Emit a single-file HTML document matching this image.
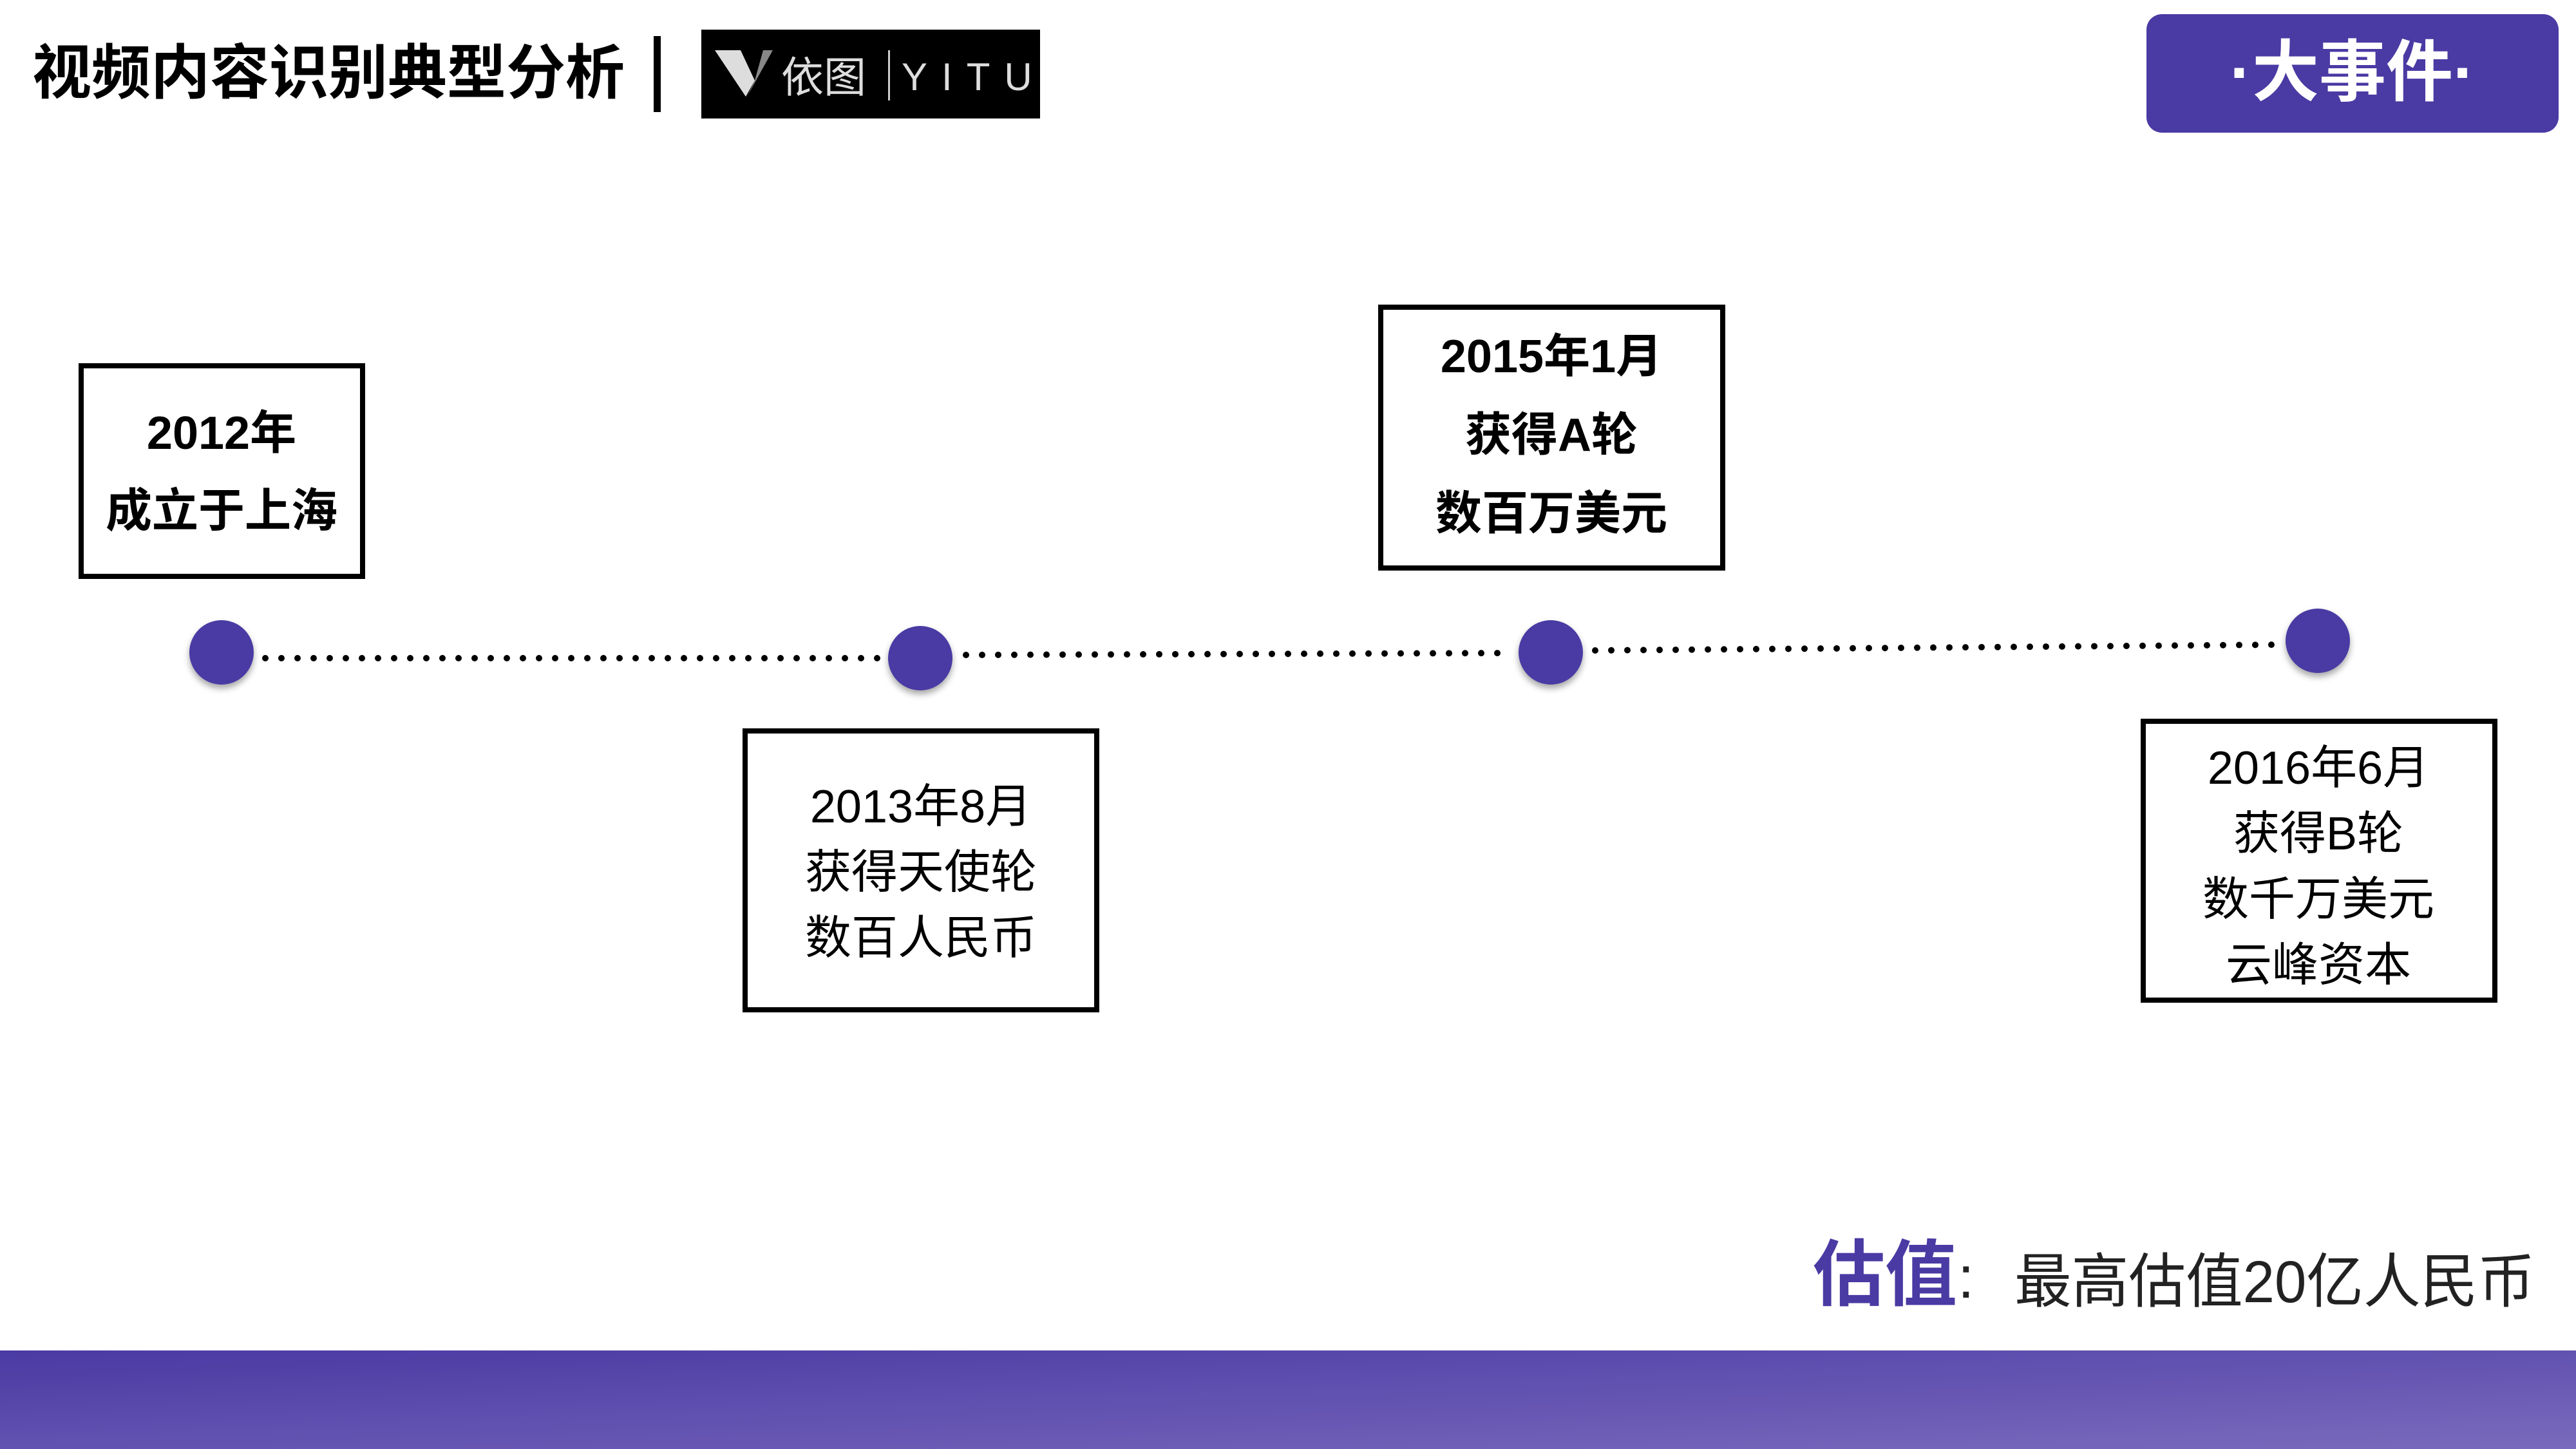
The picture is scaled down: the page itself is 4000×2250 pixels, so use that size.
<!DOCTYPE html>
<html><head><meta charset="utf-8"><style>
html,body{margin:0;padding:0;background:#fff;}
svg{display:block}
text{font-family:"Liberation Sans","Noto Sans CJK SC",sans-serif;}
</style></head><body>
<svg width="4000" height="2250" viewBox="0 0 4000 2250" xmlns="http://www.w3.org/2000/svg">
<defs>
<linearGradient id="band" x1="0" y1="0" x2="1" y2="1">
<stop offset="0" stop-color="#4a3aa3"/><stop offset="1" stop-color="#7a6abd"/>
</linearGradient>
<filter id="sh" x="-50%" y="-50%" width="200%" height="200%">
<feDropShadow dx="0" dy="6" stdDeviation="5" flood-color="#000" flood-opacity="0.35"/>
</filter>
</defs>
<text x="50" y="145" font-size="92" font-weight="bold" fill="#000">视频内容识别典型分析</text>
<rect x="1015" y="56" width="11" height="118" fill="#000"/>
<rect x="1089" y="46" width="526" height="138" fill="#000"/>
<polygon points="1110,78 1150,78 1172,125 1158,150" fill="#ddd"/>
<polygon points="1172,125 1185,78 1200,78 1160,150" fill="#888"/>
<text x="1213" y="143" font-size="66" fill="#ddd">依图</text>
<rect x="1379" y="78" width="3" height="78" fill="#ccc"/>
<text x="1400" y="140" font-size="60" fill="#ddd" letter-spacing="22">YITU</text>
<rect x="3333" y="22" width="640" height="184" rx="24" fill="#4a3aa3"/>
<text x="3653" y="148" font-size="104" font-weight="bold" fill="#fff" text-anchor="middle">·大事件·</text>
<line x1="412" y1="1022" x2="1370" y2="1022" stroke="#000" stroke-width="10" stroke-linecap="round" stroke-dasharray="0 25"/>
<line x1="1500" y1="1017" x2="2345" y2="1014" stroke="#000" stroke-width="10" stroke-linecap="round" stroke-dasharray="0 25"/>
<line x1="2477" y1="1010" x2="3540" y2="1001" stroke="#000" stroke-width="10" stroke-linecap="round" stroke-dasharray="0 25"/>
<g fill="#4a3aa3" filter="url(#sh)">
<circle cx="344" cy="1013" r="50"/>
<circle cx="1429" cy="1022" r="50"/>
<circle cx="2408" cy="1013" r="50"/>
<circle cx="3599" cy="995" r="50"/>
</g>
<g fill="none" stroke="#000" stroke-width="8">
<rect x="126" y="568" width="437" height="327"/>
<rect x="1157" y="1135" width="546" height="433"/>
<rect x="2144" y="477" width="531" height="405"/>
<rect x="3328" y="1120" width="546" height="433"/>
</g>
<g text-anchor="middle" font-weight="bold" font-size="72" fill="#000">
<text x="344" y="697">2012年</text>
<text x="344" y="818">成立于上海</text>
<text x="2409" y="578">2015年1月</text>
<text x="2409" y="700">获得A轮</text>
<text x="2409" y="822">数百万美元</text>
</g>
<g text-anchor="middle" font-size="72" fill="#000">
<text x="1430" y="1277">2013年8月</text>
<text x="1430" y="1379">获得天使轮</text>
<text x="1430" y="1481">数百人民币</text>
<text x="3600" y="1217">2016年6月</text>
<text x="3600" y="1319">获得B轮</text>
<text x="3600" y="1421">数千万美元</text>
<text x="3600" y="1523">云峰资本</text>
</g>
<text x="2815" y="2018" font-size="112" font-weight="bold" fill="#4a3aa3">估值</text>
<text x="3040" y="2015" font-size="92" fill="#222">:</text>
<text x="3128" y="2022" font-size="92" fill="#222" textLength="808" lengthAdjust="spacingAndGlyphs">最高估值20亿人民币</text>
<rect x="0" y="2097" width="4000" height="153" fill="url(#band)"/>
</svg>
</body></html>
